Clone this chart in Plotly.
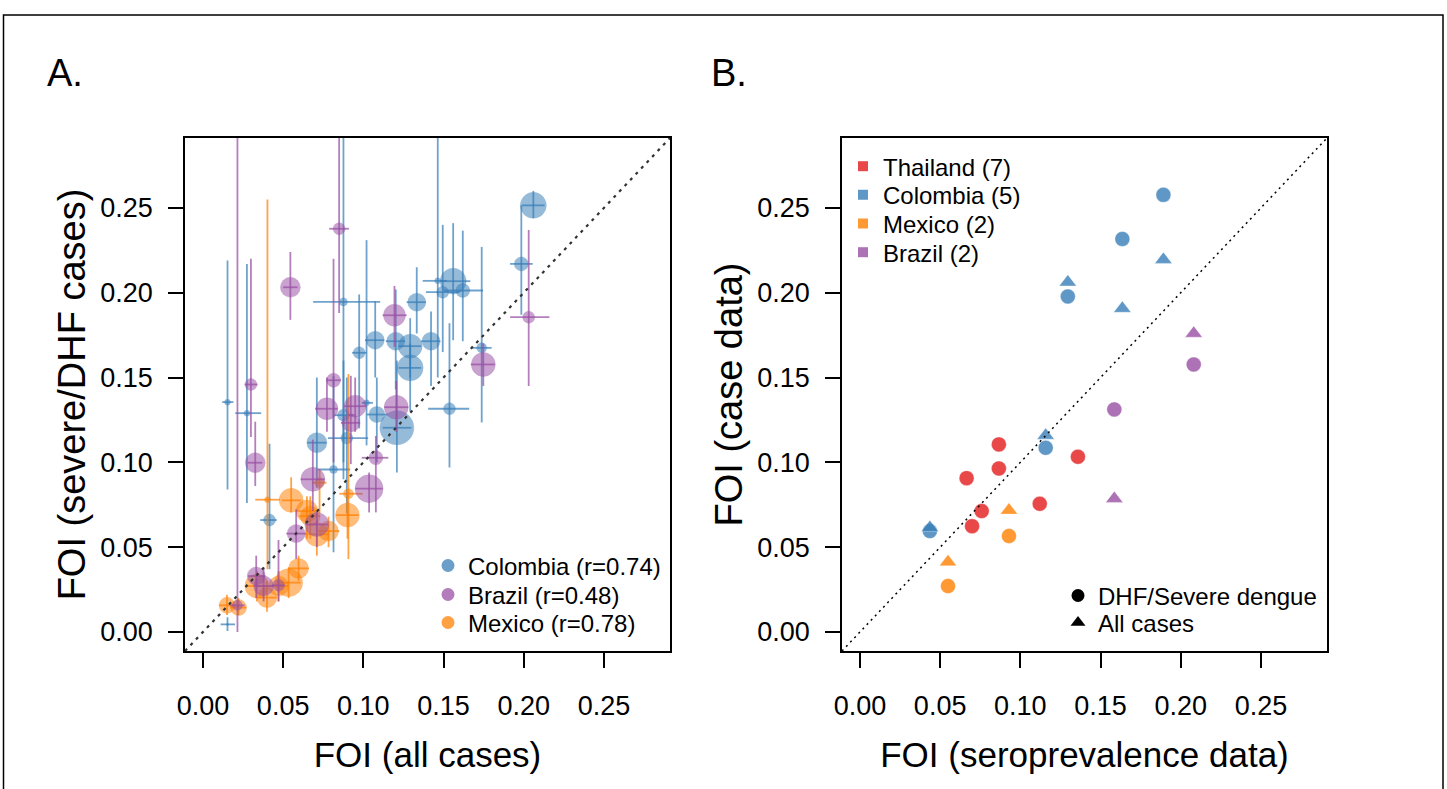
import plotly.graph_objects as go

# ---------------- Panel A data: FOI (all cases) vs FOI (severe/DHF cases) ----------------
# Colombia
col_x    = [0.206, 0.1985, 0.156, 0.1495, 0.162, 0.1464, 0.1333, 0.1422, 0.1292, 0.1292, 0.1202, 0.1074, 0.0974, 0.0876,
            0.1209, 0.1084, 0.0876, 0.102, 0.0897, 0.071, 0.0814, 0.1537, 0.0415, 0.0274, 0.0153, 0.0153, 0.1738]
col_y    = [0.2515, 0.217, 0.2068, 0.2003, 0.2013, 0.207, 0.1944, 0.1714, 0.1685, 0.1557, 0.1714, 0.172, 0.1646, 0.1946,
            0.1204, 0.1282, 0.1278, 0.1351, 0.1143, 0.1116, 0.0958, 0.1316, 0.066, 0.129, 0.1355, 0.0045, 0.1675]
col_w    = [13, 7, 13, 6, 7, 3, 9, 9, 12, 13, 9, 9, 6, 4,
            17, 8, 6, 3, 6, 10, 4, 6, 6, 3, 3, 1, 5]
col_xlo  = [0.199, 0.1915, 0.148, 0.139, 0.150, 0.137, 0.127, 0.136, 0.122, 0.122, 0.114, 0.101, 0.093, 0.0687,
            0.112, 0.102, 0.082, 0.099, 0.078, 0.065, 0.0718, 0.1404, 0.0357, 0.0201, 0.012, 0.011, 0.1676]
col_xhi  = [0.213, 0.2056, 0.1667, 0.160, 0.1746, 0.152, 0.139, 0.148, 0.136, 0.136, 0.126, 0.113, 0.102, 0.1105,
            0.130, 0.115, 0.094, 0.106, 0.103, 0.077, 0.0918, 0.166, 0.046, 0.0363, 0.019, 0.020, 0.180]
col_ylo  = [0.244, 0.187, 0.172, 0.165, 0.1714, 0.150, 0.176, 0.145, 0.150, 0.130, 0.143, 0.150, 0.120, 0.100,
            0.094, 0.100, 0.090, 0.110, 0.070, 0.085, 0.047, 0.097, 0.037, 0.076, 0.084, 0.0006, 0.1235]
col_yhi  = [0.260, 0.2515, 0.241, 0.240, 0.2366, 0.400, 0.215, 0.189, 0.185, 0.170, 0.2019, 0.195, 0.199, 0.400,
            0.160, 0.150, 0.160, 0.231, 0.150, 0.150, 0.151, 0.182, 0.111, 0.217, 0.219, 0.0087, 0.227]

# Brazil
bra_x    = [0.0849, 0.0545, 0.0299, 0.0326, 0.0215, 0.1194, 0.0814, 0.0773, 0.0949, 0.0922, 0.1205, 0.1078, 0.1036,
            0.0685, 0.0581, 0.0332, 0.0378, 0.0471, 0.071, 0.1748, 0.2031]
bra_y    = [0.2377, 0.2032, 0.1459, 0.0998, 0.0157, 0.1867, 0.1484, 0.1316, 0.1331, 0.1233, 0.1325, 0.1027, 0.0845,
            0.090, 0.058, 0.033, 0.0271, 0.0275, 0.0634, 0.1577, 0.1856]
bra_w    = [6, 10, 6, 10, 5, 11, 7, 11, 11, 9, 12, 7, 14,
            12, 9, 9, 10, 6, 12, 12, 6]
bra_xlo  = [0.0787, 0.050, 0.026, 0.028, 0.017, 0.112, 0.077, 0.070, 0.088, 0.086, 0.113, 0.099, 0.095,
            0.061, 0.052, 0.028, 0.032, 0.043, 0.064, 0.167, 0.1915]
bra_xhi  = [0.091, 0.059, 0.034, 0.037, 0.026, 0.127, 0.086, 0.084, 0.102, 0.098, 0.128, 0.1156, 0.112,
            0.076, 0.064, 0.039, 0.044, 0.051, 0.078, 0.182, 0.216]
bra_ylo  = [0.188, 0.184, 0.115, 0.086, 0.0, 0.168, 0.100, 0.118, 0.118, 0.099, 0.118, 0.0705, 0.0705,
            0.0713, 0.043, 0.020, 0.018, 0.018, 0.050, 0.145, 0.145]
bra_yhi  = [0.500, 0.224, 0.220, 0.124, 0.500, 0.204, 0.220, 0.150, 0.150, 0.151, 0.148, 0.1155, 0.094,
            0.1134, 0.0723, 0.045, 0.038, 0.0542, 0.0713, 0.170, 0.237]

# Mexico
mex_x    = [0.0402, 0.055, 0.0727, 0.0648, 0.071, 0.0783, 0.0907, 0.0901, 0.0596, 0.0534, 0.0399, 0.0336,
            0.015, 0.0222, 0.0471, 0.0669]
mex_y    = [0.078, 0.0776, 0.088, 0.0713, 0.0576, 0.0595, 0.0815, 0.0689, 0.0375, 0.0291, 0.0203, 0.0271,
            0.0157, 0.0144, 0.0271, 0.0683]
mex_w    = [3, 12, 5, 11, 12, 10, 5, 12, 10, 14, 10, 12, 8, 8, 10, 10]
mex_xlo  = [0.0326, 0.049, 0.068, 0.058, 0.064, 0.072, 0.085, 0.083, 0.053, 0.046, 0.034, 0.027,
            0.010, 0.017, 0.041, 0.060]
mex_xhi  = [0.048, 0.061, 0.077, 0.071, 0.078, 0.085, 0.0996, 0.097, 0.066, 0.061, 0.046, 0.040,
            0.020, 0.027, 0.053, 0.073]
mex_ylo  = [0.037, 0.0705, 0.070, 0.055, 0.045, 0.050, 0.043, 0.055, 0.030, 0.020, 0.012, 0.018,
            0.010, 0.010, 0.018, 0.055]
mex_yhi  = [0.255, 0.0912, 0.0958, 0.080, 0.066, 0.068, 0.152, 0.080, 0.045, 0.038, 0.030, 0.036,
            0.022, 0.020, 0.036, 0.080]

legend_a_names = ["Colombia (r=0.74)", "Brazil (r=0.48)", "Mexico (r=0.78)"]

# ---------------- Panel B data: FOI (seroprevalence) vs FOI (case data) ----------------
tha_sero = [0.0866, 0.1359, 0.0866, 0.0665, 0.1121, 0.0759, 0.0699]
tha_dhf  = [0.1106, 0.1033, 0.0964, 0.0907, 0.0756, 0.0713, 0.0624]
colb_sero = [0.1892, 0.1636, 0.1296, 0.1158, 0.0436]
colb_dhf  = [0.2577, 0.2317, 0.1978, 0.1086, 0.0595]
colb_all  = [0.2195, 0.1907, 0.2062, 0.1159, 0.0615]
mexb_sero = [0.0929, 0.0549]
mexb_dhf  = [0.0566, 0.0271]
mexb_all  = [0.0717, 0.0412]
brab_sero = [0.2081, 0.1586]
brab_dhf  = [0.1577, 0.1312]
brab_all  = [0.176, 0.0786]

legend_b_names = ["Thailand (7)", "Colombia (5)", "Mexico (2)", "Brazil (2)"]
legend_shape_names = ["DHF/Severe dengue", "All cases"]

tick_vals = [0.0, 0.05, 0.10, 0.15, 0.20, 0.25]
AX_MIN, AX_MAX = -0.0112, 0.2912

# ---------------- styling ----------------
FONT = "Liberation Sans, Arial, Helvetica, sans-serif"
W, H = 1447, 789
LEG_FONT = 24


def rgba(rgb, a):
    return "rgba(%d,%d,%d,%.2f)" % (rgb[0], rgb[1], rgb[2], a)


def px_x(p):
    return p / W


def px_y(p):
    return 1 - p / H


BLUE = (55, 126, 184)
PURPLE = (152, 78, 163)
ORANGE = (255, 127, 0)
RED = (228, 26, 28)

fig = go.Figure()


def panel_a_trace(x, y, w, xlo, xhi, ylo, yhi, rgb):
    return go.Scatter(
        x=x, y=y, mode="markers", showlegend=False, xaxis="x", yaxis="y",
        marker=dict(size=[2 * v for v in w], color=rgba(rgb, 0.74),
                    line=dict(width=1, color=rgba(rgb, 0.3))),
        error_x=dict(type="data", symmetric=False,
                     array=[h - v for h, v in zip(xhi, x)],
                     arrayminus=[v - l for l, v in zip(xlo, x)],
                     color=rgba(rgb, 0.72), thickness=1.8, width=0),
        error_y=dict(type="data", symmetric=False,
                     array=[h - v for h, v in zip(yhi, y)],
                     arrayminus=[v - l for l, v in zip(ylo, y)],
                     color=rgba(rgb, 0.72), thickness=1.8, width=0),
        hoverinfo="x+y",
    )


fig.add_trace(panel_a_trace(col_x, col_y, col_w, col_xlo, col_xhi, col_ylo, col_yhi, BLUE))
fig.add_trace(panel_a_trace(mex_x, mex_y, mex_w, mex_xlo, mex_xhi, mex_ylo, mex_yhi, ORANGE))
fig.add_trace(panel_a_trace(bra_x, bra_y, bra_w, bra_xlo, bra_xhi, bra_ylo, bra_yhi, PURPLE))


def b_trace(x, y, rgb, symbol):
    return go.Scatter(x=x, y=y, mode="markers", showlegend=False, xaxis="x2", yaxis="y2",
                      marker=dict(size=15, symbol=symbol, color=rgba(rgb, 0.8),
                                  line=dict(width=1, color="rgba(255,255,255,0.35)")))


fig.add_trace(b_trace(tha_sero, tha_dhf, RED, "circle"))
fig.add_trace(b_trace(colb_sero, colb_dhf, BLUE, "circle"))
fig.add_trace(b_trace(colb_sero, colb_all, BLUE, "triangle-up"))
fig.add_trace(b_trace(mexb_sero, mexb_dhf, ORANGE, "circle"))
fig.add_trace(b_trace(mexb_sero, mexb_all, ORANGE, "triangle-up"))
fig.add_trace(b_trace(brab_sero, brab_dhf, PURPLE, "circle"))
fig.add_trace(b_trace(brab_sero, brab_all, PURPLE, "triangle-up"))

# ---------------- legends (one legend box per row for exact R-like spacing) ----------------
legend_layout = {}
leg_idx = [0]


def add_legend_row(name, marker, text_left_px, row_center_px, xa, ya):
    leg_idx[0] += 1
    key = "legend" if leg_idx[0] == 1 else "legend%d" % leg_idx[0]
    fig.add_trace(go.Scatter(x=[None], y=[None], mode="markers", name=name, legend=key,
                             xaxis=xa, yaxis=ya, marker=marker))
    legend_layout[key] = dict(x=px_x(text_left_px - 41), y=px_y(row_center_px - 22.6),
                              xanchor="left", yanchor="top", bgcolor="rgba(0,0,0,0)",
                              borderwidth=0, font=dict(family=FONT, size=LEG_FONT, color="black"))


for name, rgb, yc in zip(legend_a_names, [BLUE, PURPLE, ORANGE], [566, 595, 623]):
    add_legend_row(name, dict(size=13, color=rgba(rgb, 0.74)), 469, yc, "x", "y")
for name, rgb, yc in zip(legend_b_names, [RED, BLUE, ORANGE, PURPLE], [166.7, 195.3, 224, 252.7]):
    add_legend_row(name, dict(size=10, symbol="square", color=rgba(rgb, 0.8)), 884, yc, "x2", "y2")
for name, sym, yc in zip(legend_shape_names, ["circle", "triangle-up"], [596, 623]):
    add_legend_row(name, dict(size=13, symbol=sym, color="black"), 1099, yc, "x2", "y2")

# ---------------- axes ----------------
axis_common = dict(
    range=[AX_MIN, AX_MAX], tickvals=tick_vals, tickformat=".2f",
    showline=True, mirror=True, linecolor="black", linewidth=1.5,
    ticks="outside", ticklen=15, tickwidth=1.5, tickcolor="black",
    showgrid=False, zeroline=False, automargin=False,
    tickfont=dict(family=FONT, size=27, color="black"),
)
XT = dict(family=FONT, size=35)
YT = dict(family=FONT, size=38)

fig.update_layout(
    width=W, height=H, margin=dict(l=0, r=0, t=0, b=0),
    paper_bgcolor="white", plot_bgcolor="white",
    font=dict(family=FONT, color="black"),
    xaxis=dict(domain=[px_x(185), px_x(670)], anchor="y",
               title=dict(text="FOI (all cases)", font=XT, standoff=22),
               ticklabelstandoff=15, **axis_common),
    yaxis=dict(domain=[px_y(651), px_y(138)], anchor="x",
               title=dict(text="FOI (severe/DHF cases)", font=YT, standoff=3),
               ticklabelstandoff=10, **axis_common),
    xaxis2=dict(domain=[px_x(842), px_x(1327)], anchor="y2",
                title=dict(text="FOI (seroprevalence data)", font=XT, standoff=22),
                ticklabelstandoff=15, **axis_common),
    yaxis2=dict(domain=[px_y(651), px_y(138)], anchor="x2",
                title=dict(text="FOI (case data)", font=YT, standoff=3),
                ticklabelstandoff=10, **axis_common),
    showlegend=True,
    **legend_layout,
)

# y = x reference lines
for xr, yr, w_, dash, col in [("x", "y", 2.2, "3px,5px", "#333333"), ("x2", "y2", 1.5, "2px,4px", "black")]:
    fig.add_shape(type="line", xref=xr, yref=yr, x0=AX_MIN, y0=AX_MIN, x1=AX_MAX, y1=AX_MAX,
                  line=dict(color=col, width=w_, dash=dash), layer="above")

# outer frame
fig.add_shape(type="rect", xref="paper", yref="paper", x0=px_x(3.5), x1=px_x(1443), y0=-0.05, y1=px_y(15),
              line=dict(color="black", width=1.5), fillcolor="rgba(0,0,0,0)")

# panel labels
for txt, xp in [("A.", 45), ("B.", 709)]:
    fig.add_annotation(text=txt, xref="paper", yref="paper", x=px_x(xp), y=px_y(73),
                       xanchor="left", yanchor="middle", showarrow=False,
                       font=dict(family=FONT, size=38, color="black"))

fig.write_html("out.html")
